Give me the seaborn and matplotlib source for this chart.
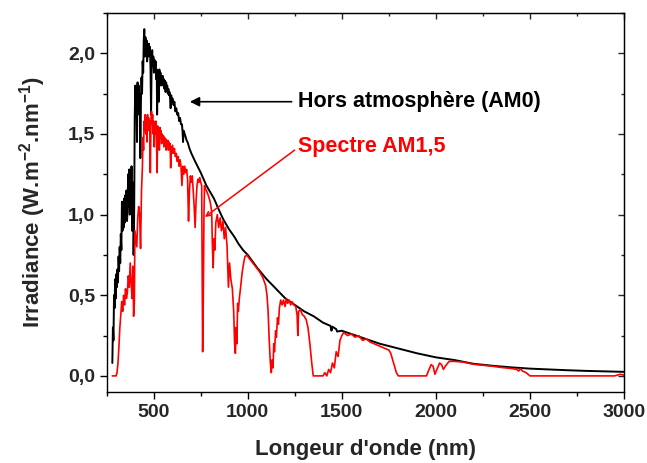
import seaborn as sns
import pandas as pd, numpy as np
import matplotlib.pyplot as plt
from matplotlib.ticker import MultipleLocator, FuncFormatter

# spectre hors atmosphère (AM0)
am0_wl = [280, 283, 286, 289, 292, 295, 298, 301, 304, 307, 310, 313, 316, 319,
          322, 325, 328, 331, 334, 337, 340, 343, 346, 349, 352, 355, 358, 361,
          364, 367, 370, 373, 376, 379, 382, 385, 388, 391, 393, 396, 399, 402,
          405, 408, 411, 414, 417, 420, 423, 426, 429, 432, 435, 438, 441, 444,
          447, 450, 453, 456, 459, 462, 465, 468, 471, 474, 477, 480, 483, 486,
          489, 492, 495, 498, 501, 504, 507, 510, 513, 516, 518, 521, 524, 527,
          530, 533, 536, 539, 542, 545, 548, 551, 554, 557, 560, 563, 566, 569,
          572, 575, 578, 581, 584, 587, 590, 593, 596, 600, 605, 610, 615, 620,
          625, 630, 635, 640, 645, 650, 653, 656, 659, 665, 670, 675, 680, 690,
          700, 720, 750, 765, 780, 800, 820, 850, 870, 900, 930, 950, 975, 1000,
          1050, 1100, 1150, 1200, 1250, 1300, 1350, 1400, 1440, 1445, 1450, 1470,
          1475, 1500, 1600, 1700, 1800, 1900, 2000, 2100, 2200, 2300, 2400, 2500,
          2600, 2700, 2800, 2900, 3000]
am0_irr = [0.08, 0.30, 0.22, 0.50, 0.42, 0.60, 0.48, 0.63, 0.55, 0.66, 0.58, 0.74,
           0.65, 0.80, 0.70, 0.88, 0.78, 1.08, 0.90, 1.05, 0.92, 1.10, 0.95, 1.12,
           0.98, 1.15, 0.96, 1.02, 1.25, 1.05, 1.28, 1.00, 1.20, 1.05, 1.30, 0.90,
           1.20, 1.10, 0.75, 1.00, 1.60, 1.80, 1.62, 1.78, 1.45, 1.82, 1.70, 1.80,
           1.62, 1.75, 1.35, 1.70, 1.85, 1.75, 1.95, 1.88, 2.08, 2.15, 1.98, 2.10,
           2.02, 2.08, 1.95, 2.05, 1.98, 2.06, 2.00, 2.04, 1.90, 1.62, 1.96, 2.02,
           1.92, 1.98, 1.88, 1.96, 1.90, 1.95, 1.84, 1.90, 1.62, 1.88, 1.80, 1.70,
           1.90, 1.85, 1.88, 1.80, 1.86, 1.82, 1.86, 1.80, 1.84, 1.78, 1.83, 1.76,
           1.82, 1.78, 1.80, 1.75, 1.78, 1.74, 1.76, 1.72, 1.66, 1.74, 1.70, 1.72,
           1.68, 1.70, 1.64, 1.66, 1.62, 1.63, 1.58, 1.60, 1.56, 1.56, 1.52, 1.45,
           1.52, 1.50, 1.48, 1.46, 1.45, 1.41, 1.38, 1.33, 1.26, 1.22, 1.18, 1.14,
           1.10, 1.02, 0.97, 0.91, 0.86, 0.82, 0.78, 0.75, 0.67, 0.60, 0.54, 0.48,
           0.44, 0.40, 0.37, 0.33, 0.31, 0.28, 0.305, 0.29, 0.275, 0.28, 0.24,
           0.20, 0.17, 0.14, 0.115, 0.098, 0.075, 0.063, 0.053, 0.045, 0.040,
           0.035, 0.031, 0.028, 0.025]

# spectre AM1,5
am15_wl = [280, 300, 305, 310, 315, 320, 325, 330, 335, 340, 345, 350, 355, 360,
           365, 370, 375, 380, 385, 390, 393, 397, 400, 405, 410, 415, 420, 425,
           430, 435, 440, 443, 446, 449, 452, 455, 458, 461, 464, 467, 470, 473,
           476, 479, 482, 485, 488, 491, 494, 497, 500, 503, 506, 509, 512, 515,
           518, 521, 524, 527, 530, 533, 536, 539, 542, 545, 548, 551, 554, 557,
           560, 563, 566, 569, 572, 575, 578, 581, 584, 587, 590, 593, 596, 600,
           605, 610, 615, 620, 625, 630, 635, 640, 645, 650, 655, 660, 665, 670,
           675, 680, 685, 690, 695, 700, 705, 710, 715, 720, 725, 730, 735, 740,
           745, 750, 755, 758, 760, 763, 767, 770, 775, 780, 790, 800, 808, 812,
           816, 820, 825, 830, 838, 845, 853, 860, 868, 875, 882, 890, 897, 903,
           910, 918, 925, 930, 934, 938, 942, 946, 950, 955, 962, 970, 978, 985,
           995, 1000, 1020, 1040, 1060, 1080, 1095, 1102, 1108, 1114, 1120, 1125,
           1130, 1134, 1138, 1142, 1148, 1152, 1158, 1163, 1168, 1175, 1182, 1190,
           1198, 1205, 1212, 1220, 1228, 1235, 1245, 1255, 1262, 1266, 1270, 1280,
           1290, 1300, 1310, 1320, 1330, 1340, 1348, 1400, 1410, 1420, 1430, 1440,
           1450, 1460, 1470, 1480, 1490, 1500, 1510, 1530, 1550, 1570, 1590, 1610,
           1630, 1650, 1670, 1690, 1710, 1730, 1750, 1760, 1775, 1790, 1800, 1950,
           1960, 1975, 1985, 1995, 2005, 2020, 2030, 2040, 2050, 2070, 2100, 2150,
           2200, 2250, 2300, 2350, 2400, 2430, 2440, 2450, 2460, 2480, 2500, 2950,
           2980, 3000]
am15_irr = [0.0, 0.0, 0.02, 0.08, 0.18, 0.30, 0.38, 0.46, 0.40, 0.50, 0.44, 0.54,
            0.48, 0.52, 0.62, 0.55, 0.70, 0.58, 0.48, 0.68, 0.37, 0.45, 0.90, 0.85,
            0.80, 0.98, 1.05, 1.00, 0.79, 1.15, 1.30, 1.48, 1.40, 1.58, 1.52, 1.62,
            1.50, 1.60, 1.45, 1.62, 1.55, 1.60, 1.52, 1.58, 1.26, 1.55, 1.64, 1.56,
            1.62, 1.50, 1.58, 1.42, 1.56, 1.50, 1.58, 1.48, 1.26, 1.55, 1.46, 1.52,
            1.40, 1.54, 1.48, 1.52, 1.44, 1.50, 1.46, 1.49, 1.42, 1.48, 1.44, 1.47,
            1.40, 1.46, 1.43, 1.46, 1.40, 1.45, 1.42, 1.44, 1.29, 1.42, 1.38, 1.43,
            1.38, 1.41, 1.36, 1.38, 1.33, 1.36, 1.30, 1.34, 1.30, 1.18, 1.30, 1.25,
            1.30, 1.26, 1.28, 1.22, 0.96, 1.15, 1.24, 1.20, 1.24, 1.15, 1.05, 0.92,
            1.08, 1.18, 1.22, 1.20, 1.23, 1.20, 1.18, 0.60, 0.15, 0.40, 1.00, 1.18,
            1.16, 1.15, 1.12, 1.08, 1.02, 0.80, 0.67, 0.85, 0.78, 0.95, 1.00, 0.92,
            0.98, 0.90, 0.96, 0.85, 0.92, 0.80, 0.55, 0.70, 0.60, 0.54, 0.40, 0.20,
            0.14, 0.30, 0.20, 0.45, 0.40, 0.48, 0.55, 0.64, 0.70, 0.74, 0.75, 0.74,
            0.71, 0.68, 0.65, 0.61, 0.56, 0.50, 0.40, 0.22, 0.08, 0.02, 0.10, 0.05,
            0.20, 0.15, 0.28, 0.24, 0.36, 0.32, 0.42, 0.47, 0.44, 0.47, 0.43, 0.48,
            0.45, 0.47, 0.44, 0.46, 0.44, 0.43, 0.38, 0.25, 0.40, 0.41, 0.38, 0.37,
            0.35, 0.30, 0.20, 0.08, 0.0, 0.0, 0.02, 0.0, 0.04, 0.02, 0.08, 0.05,
            0.15, 0.12, 0.22, 0.25, 0.27, 0.25, 0.26, 0.24, 0.25, 0.22, 0.23, 0.21,
            0.20, 0.19, 0.18, 0.17, 0.16, 0.14, 0.08, 0.02, 0.0, 0.0, 0.03, 0.07,
            0.06, 0.01, 0.04, 0.08, 0.07, 0.04, 0.06, 0.09, 0.09, 0.085, 0.072,
            0.066, 0.060, 0.052, 0.046, 0.04, 0.03, 0.045, 0.03, 0.02, 0.0, 0.0,
            0.01, 0.005]

sns.set_style('ticks')
plt.rcParams['font.family'] = ['Liberation Sans', 'DejaVu Sans']
plt.rcParams['font.weight'] = 'bold'
plt.rcParams['mathtext.fontset'] = 'custom'
plt.rcParams['mathtext.rm'] = 'Liberation Sans:bold'
plt.rcParams['mathtext.default'] = 'rm'

fig = plt.figure(figsize=(6.47, 4.63), dpi=100)
ax = fig.add_axes([0.1649, 0.1533, 0.7996, 0.8186])

sns.lineplot(x=am0_wl, y=am0_irr, color='black', lw=1.4, ax=ax)
sns.lineplot(x=am15_wl, y=am15_irr, color='red', lw=1.2, ax=ax)

ax.set_xlim(250, 3000)
ax.set_ylim(-0.1, 2.25)

ax.xaxis.set_major_locator(MultipleLocator(500))
ax.xaxis.set_minor_locator(MultipleLocator(250))
ax.yaxis.set_major_locator(MultipleLocator(0.5))
ax.yaxis.set_minor_locator(MultipleLocator(0.25))
ax.yaxis.set_major_formatter(FuncFormatter(lambda v, p: f'{v:.1f}'.replace('.', ',')))
ax.xaxis.set_major_formatter(FuncFormatter(lambda v, p: f'{v:.0f}'))

ax.tick_params(which='both', direction='out', width=1, labelsize=14, color='black')
ax.tick_params(which='major', length=5)
ax.tick_params(which='minor', length=3)
for s in ax.spines.values():
    s.set_linewidth(1)
    s.set_color('black')

# ticks vers l'intérieur sur les axes du haut et de droite
top = ax.secondary_xaxis('top')
top.xaxis.set_major_locator(MultipleLocator(500))
top.xaxis.set_minor_locator(MultipleLocator(250))
top.tick_params(which='both', direction='in', labeltop=False, width=1)
top.tick_params(which='major', length=4)
top.tick_params(which='minor', length=2)
right = ax.secondary_yaxis('right')
right.yaxis.set_major_locator(MultipleLocator(0.5))
right.yaxis.set_minor_locator(MultipleLocator(0.25))
right.tick_params(which='both', direction='in', labelright=False, width=1)
right.tick_params(which='major', length=4)
right.tick_params(which='minor', length=2)

ax.set_xlabel("Longeur d'onde (nm)", fontsize=16, fontweight='bold', labelpad=13)
ax.set_ylabel('Irradiance (W.m$^{-2}$.nm$^{-1}$)', fontsize=16, fontweight='bold', labelpad=14)

# annotations
ax.annotate('', xy=(692, 1.70), xytext=(1233, 1.70),
            arrowprops=dict(arrowstyle='-|>', color='black', lw=1.2,
                            mutation_scale=14, shrinkA=0, shrinkB=0))
ax.text(1265, 1.70, 'Hors atmosphère (AM0)', fontsize=15.5, fontweight='bold',
        color='black', va='center', ha='left')
ax.annotate('', xy=(772, 0.985), xytext=(1249, 1.40),
            arrowprops=dict(arrowstyle='->', color='red', lw=1.1,
                            mutation_scale=8, shrinkA=0, shrinkB=0))
ax.text(1265, 1.425, 'Spectre AM1,5', fontsize=15.5, fontweight='bold',
        color='red', va='center', ha='left')

fig.savefig('out.png', dpi=100)
